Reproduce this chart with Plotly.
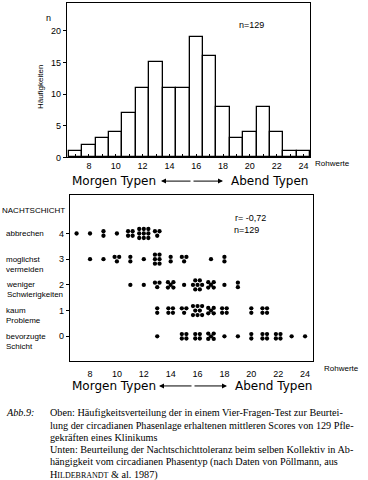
import plotly.graph_objects as go

W, H = 368, 480

# ---------------- data ----------------
scores = list(range(7, 25))
frequency = [1, 2, 3, 4, 7, 11, 15, 11, 11, 19, 16, 8, 3, 4, 8, 4, 1, 1]

levels = [4, 3, 2, 1, 0]
level_labels = ["abbrechen", "moglichst<br>vermeiden", "weniger<br>Schwierigkeiten",
                "kaum<br>Probleme", "bevorzugte<br>Schicht"]
counts_abbrechen = [1, 1, 2, 1, 4, 9, 3, 0, 0, 0, 0, 0, 0, 0, 0, 0, 0, 0]
counts_vermeiden = [0, 1, 1, 3, 2, 1, 6, 2, 3, 0, 1, 2, 0, 0, 0, 0, 0, 0]
counts_weniger = [0, 0, 0, 0, 1, 1, 3, 5, 1, 7, 5, 1, 2, 0, 0, 0, 0, 0]
counts_kaum = [0, 0, 0, 0, 0, 0, 2, 4, 3, 8, 5, 4, 0, 2, 4, 0, 0, 0]
counts_bevorzugt = [0, 0, 0, 0, 0, 0, 1, 0, 4, 4, 5, 1, 1, 2, 4, 4, 1, 1]
level_counts = [counts_abbrechen, counts_vermeiden, counts_weniger, counts_kaum, counts_bevorzugt]

x_ticks = [8, 10, 12, 14, 16, 18, 20, 22, 24]
y_ticks_top = [0, 5, 10, 15, 20]

caption_lines = [
    "Oben: Häufigkeitsverteilung der in einem Vier-Fragen-Test zur Beurtei-",
    "lung der circadianen Phasenlage erhaltenen mittleren Scores von 129 Pfle-",
    "gekräften eines Klinikums",
    "Unten: Beurteilung der Nachtschichttoleranz beim selben Kollektiv in Ab-",
    "hängigkeit vom circadianen Phasentyp (nach Daten von Pöllmann, aus",
    "H<span style='font-size:8px'>ILDEBRANDT</span> &amp; al. 1987)",
]

# ---------------- helpers ----------------
def px(x):
    return x / W

def py(y):
    return 1 - y / H

# dot cluster patterns (in units of dot spacing)
def pattern(n):
    if n == 1:
        return [(0, 0)]
    if n == 2:
        return [(0, 0.5), (0, -0.5)]
    if n == 3:
        return [(-0.5, 0.5), (0.5, 0.5), (0, -0.5)]
    if n == 4:
        return [(-0.5, 0.5), (0.5, 0.5), (-0.5, -0.5), (0.5, -0.5)]
    if n == 5:
        return [(-0.6, 0.6), (0.6, 0.6), (0, 0), (-0.6, -0.6), (0.6, -0.6)]
    if n == 6:
        return [(dx, dy) for dy in (1, 0, -1) for dx in (-0.5, 0.5)]
    if n == 7:
        return [(-0.5, 1), (0.5, 1), (-1, 0), (0, 0), (1, 0), (-0.5, -1), (0.5, -1)]
    if n == 8:
        return [(-1, 1), (0, 1), (1, 1), (-0.5, 0), (0.5, 0), (-1, -1), (0, -1), (1, -1)]
    return [(dx, dy) for dy in (1, 0, -1) for dx in (-1, 0, 1)]

sx, sy = 0.34, 0.175

fig = go.Figure()

# histogram
fig.add_trace(go.Bar(x=scores, y=frequency, width=1,
                     marker=dict(color="white", line=dict(color="black", width=1.3)),
                     xaxis="x", yaxis="y", showlegend=False))

# dot plot
for lev, cnts in zip(levels, level_counts):
    xs, ys = [], []
    for s, c in zip(scores, cnts):
        if c == 0:
            continue
        for dx, dy in pattern(c):
            xs.append(s + dx * sx)
            ys.append(lev + dy * sy)
    fig.add_trace(go.Scatter(x=xs, y=ys, mode="markers",
                             marker=dict(color="black", size=4.3),
                             xaxis="x2", yaxis="y2", showlegend=False))

tick_font = dict(family="Liberation Sans, Arial, sans-serif", size=9, color="black")
axis_common = dict(showgrid=False, zeroline=False, showline=True, linecolor="black",
                   linewidth=1.4, mirror=True, tickfont=tick_font, tickcolor="black")

fig.update_layout(
    width=W, height=H, autosize=False,
    margin=dict(l=0, r=0, t=0, b=0),
    paper_bgcolor="white", plot_bgcolor="white",
    bargap=0,
    xaxis=dict(domain=[px(67), px(310)], range=[6.36, 24.49], anchor="y",
               tickvals=x_ticks, ticks="inside", ticklen=3,
               minor=dict(dtick=1, tick0=0, ticks="inside", ticklen=3, tickcolor="black"),
               **axis_common),
    yaxis=dict(domain=[py(159), py(3)], range=[0, 24.4], anchor="x",
               tickvals=y_ticks_top, ticks="outside", ticklen=3, **axis_common),
    xaxis2=dict(domain=[px(70), px(313)], range=[6.51, 24.59], anchor="y2",
                tickvals=x_ticks, ticks="", ticklabelstandoff=4, **axis_common),
    yaxis2=dict(domain=[py(365), py(197)], range=[-0.97, 5.5], anchor="x2",
                tickvals=levels, ticktext=[str(v) for v in levels],
                ticks="outside", ticklen=3, **axis_common),
)

ann = []
lab_font = dict(family="Liberation Sans, Arial, sans-serif", size=9, color="black")
small_font = dict(family="Liberation Sans, Arial, sans-serif", size=8, color="black")
big_font = dict(family="DejaVu Sans, sans-serif", size=12, color="black")

def text(x, y, t, font, xanchor="left", **kw):
    ann.append(dict(x=px(x), y=py(y), xref="paper", yref="paper", text=t,
                    showarrow=False, xanchor=xanchor, yanchor="middle", font=font, **kw))

# top chart texts
text(48, 18, "n", lab_font, xanchor="center")
text(40, 88, "Häufigkeiten", small_font, xanchor="center", textangle=-90)
text(237, 25, "n=129", lab_font)
text(313, 165, "Rohwerte", small_font)

# bottom chart texts
text(0, 213, "NACHTSCHICHT", small_font)
for lev, lab in zip(levels, level_labels):
    yy = 340 - lev * 26
    if "<br>" in lab:
        text(4, yy + 5, lab, small_font, align="left")
    else:
        text(4, yy, lab, small_font, align="left")
text(233, 220, "r= -0,72", lab_font)
text(232, 232, "n=129", lab_font)
text(322, 372, "Rohwerte", small_font)

# Morgen / Abend labels with double arrows
def typen(y, x_left, a0, a1, x_right):
    text(x_left, y, "Morgen Typen", big_font)
    text(x_right, y, "Abend Typen", big_font)
    mid = (a0 + a1) / 2
    for tip in (a0, a1):
        ann.append(dict(x=px(tip), y=py(y), xref="paper", yref="paper",
                        ax=mid - tip, ay=0,
                        text="", showarrow=True, arrowhead=2, arrowsize=1,
                        arrowwidth=1, arrowcolor="black"))

typen(183, 70, 161, 223, 229)
typen(390, 70, 159, 227, 233)

# caption
cap_font = dict(family="Liberation Serif, DejaVu Serif, serif", size=10.2, color="black")
text(4, 417, "<i>Abb.9:</i>", cap_font)
for i, line in enumerate(caption_lines):
    text(48, 417 + i * 12.5, line, cap_font)

fig.update_layout(annotations=ann)
fig.write_html("out.html", config={"displayModeBar": False},
               post_script="document.body.style.margin='0';document.body.style.overflow='hidden';")
